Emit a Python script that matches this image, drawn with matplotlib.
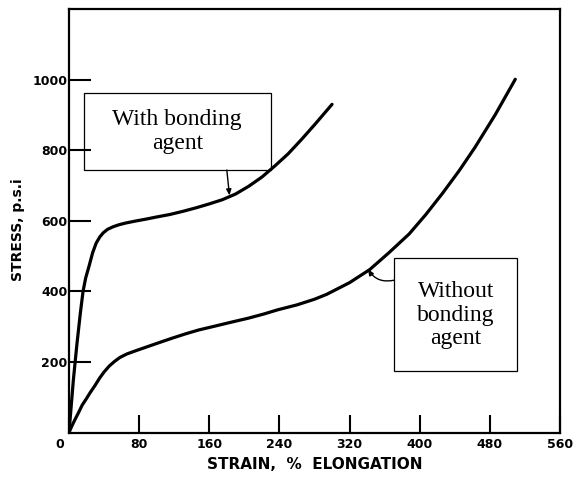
import matplotlib
matplotlib.use("Agg")
import matplotlib.pyplot as plt
from matplotlib.patches import Rectangle
from matplotlib.transforms import ScaledTranslation

# ---- data ----
with_strain = [0, 1, 2, 3, 4, 5, 7, 9, 11, 13, 16, 19, 23, 27, 31, 35, 39, 44, 50, 57,
               65, 75, 88, 100, 115, 130, 145, 160, 175, 190, 205, 220, 235, 250, 265, 280, 300]
with_stress = [0, 30, 60, 90, 120, 150, 200, 250, 295, 340, 400, 438, 473, 510, 537, 554, 566, 576, 583, 589,
               594, 599, 605, 611, 618, 627, 637, 648, 660, 676, 698, 724, 756, 790, 830, 872, 930]

without_strain = [0, 2, 5, 8, 10.5, 15, 20, 24, 30, 35, 40, 46, 52, 58, 66, 76, 91, 105, 118, 133, 148,
                  165, 185, 204, 222, 238, 260, 280, 294, 320, 343, 365, 388, 407, 426, 445, 463, 486, 509]
without_stress = [0, 12, 28, 43, 55, 78, 97, 113, 135, 155, 172, 189, 202, 213, 223, 232, 245, 257, 268, 280, 291,
                  301, 313, 324, 336, 348, 362, 378, 392, 425, 462, 510, 563, 618, 678, 742, 808, 900, 1001]

x_ticks = [0, 80, 160, 240, 320, 400, 480, 560]
y_ticks = [200, 400, 600, 800, 1000]

label_with = "With bonding\nagent"
label_without = "Without\nbonding\nagent"

# ---- figure ----
fig = plt.figure(figsize=(5.77, 4.80), dpi=100)
ax = fig.add_axes([69/577, 1 - 432.7/480, (560 - 69)/577, (432.7 - 9)/480])

ax.plot(with_strain, with_stress, color="black", lw=2.3,
        solid_capstyle="round", solid_joinstyle="round")
ax.plot(without_strain, without_stress, color="black", lw=2.3,
        solid_capstyle="round", solid_joinstyle="round")

ax.set_xlim(0, 560)
ax.set_ylim(0, 1200)

for sp in ax.spines.values():
    sp.set_linewidth(1.6)
    sp.set_color("black")

ax.set_xticks(x_ticks)
ax.set_xticklabels([str(v) for v in x_ticks])
ax.set_yticks(y_ticks)
ax.set_yticklabels([str(v) for v in y_ticks])

ax.tick_params(axis="x", direction="in", length=13, width=1.5, pad=4,
               labelsize=9)
ax.tick_params(axis="y", direction="in", length=16, width=1.5, pad=1,
               labelsize=9)
for lab in ax.get_xticklabels() + ax.get_yticklabels():
    lab.set_fontweight("bold")
    lab.set_family("DejaVu Sans")

# shift the "0" label left of the corner
xl = ax.get_xticklabels()
xl[0].set_transform(xl[0].get_transform() + ScaledTranslation(-9/100, 0, fig.dpi_scale_trans))

ax.set_xlabel("STRAIN,  %  ELONGATION", fontsize=11, fontweight="bold", labelpad=4)
ax.set_ylabel("STRESS, p.s.i", fontsize=10, fontweight="bold")
ax.yaxis.set_label_coords(-0.09, 0.478)

# ---- annotation boxes ----
ax.add_patch(Rectangle((17, 744), 213, 219, fill=False, lw=0.9, ec="black", zorder=3))
ax.text(123.5, 853, label_with, ha="center", va="center", fontsize=17,
        family="Liberation Serif", linespacing=1.15, zorder=4)

ax.add_patch(Rectangle((371, 176), 140, 318, fill=False, lw=0.9, ec="black", zorder=3))
ax.text(441, 333, label_without, ha="center", va="center", fontsize=17,
        family="Liberation Serif", linespacing=1.15, zorder=4)

# ---- arrows ----
ax.annotate("", xy=(183, 672), xytext=(180, 744),
            arrowprops=dict(arrowstyle="-|>,head_length=0.35,head_width=0.15",
                            color="black", lw=1.0, shrinkA=0, shrinkB=0))
ax.annotate("", xy=(341, 463), xytext=(371, 432),
            arrowprops=dict(arrowstyle="-|>,head_length=0.35,head_width=0.15",
                            color="black", lw=1.0, shrinkA=0, shrinkB=0,
                            connectionstyle="arc3,rad=-0.35"))

fig.savefig("out.png", dpi=100)
